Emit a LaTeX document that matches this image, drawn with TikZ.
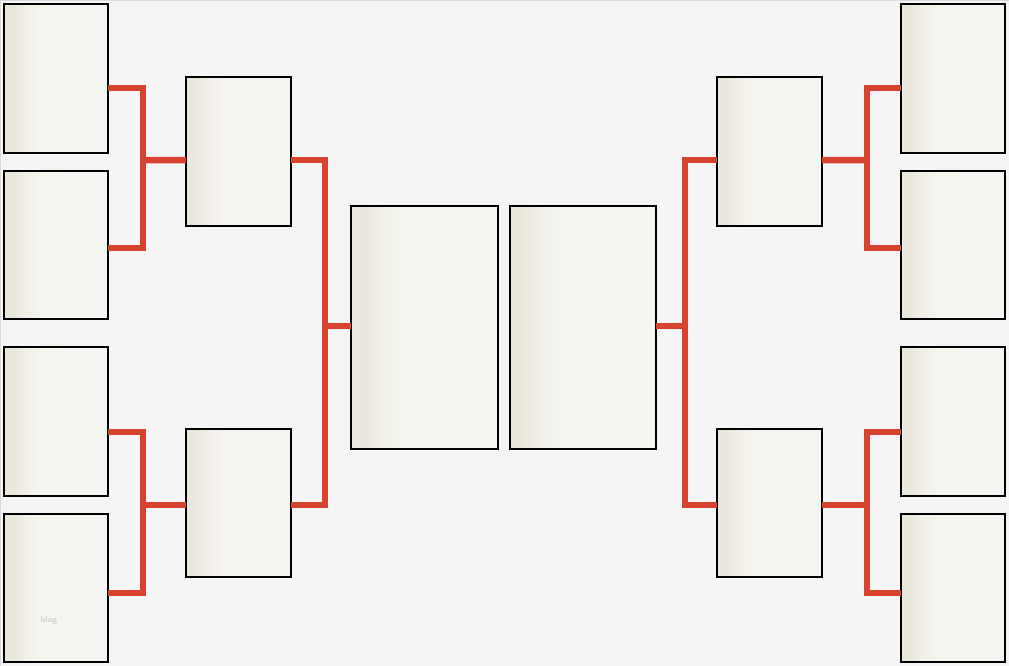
\documentclass[tikz,border=0pt]{standalone}
\usepackage{tikz}
\usetikzlibrary{calc}
\definecolor{bgcol}{RGB}{245,245,245}
\definecolor{beige}{RGB}{233,230,220}
\definecolor{paper}{RGB}{246,245,240}
\definecolor{linkred}{RGB}{216,66,48}
\pgfdeclarehorizontalshading{paperfade}{100bp}{color(0bp)=(beige); color(25bp)=(beige!85!paper); color(29bp)=(beige); color(35bp)=(paper!60!beige); color(44bp)=(paper); color(100bp)=(bgcol)}

\begin{document}
\begin{tikzpicture}[x=0.02cm,y=-0.02cm]
\tikzset{box/.style = {shape=rectangle,draw=black,line width=0.04cm,shading=paperfade,inner sep=0,outer sep=0}}
\tikzset{seed/.style = {box,minimum width=2.08cm,minimum height=2.98cm}}
\tikzset{semi/.style = {box,minimum width=2.1cm,minimum height=2.98cm}}
\tikzset{final/.style = {box,minimum width=2.93cm,minimum height=4.86cm}}
\tikzset{link/.style = {draw=linkred,line width=0.13cm}}
\useasboundingbox (0,0) rectangle (1009,666);
\fill[bgcol,draw=gray!30,line width=0.02cm] (0,0) rectangle (1009,666);

\node[seed] (a1) at (56,78.5) {};
\node[seed] (a2) at (56,245) {};
\node[seed] (a3) at (56,421.5) {};
\node[seed] (a4) at (56,588) {};
\node[semi] (b1) at (238.5,151.5) {};
\node[semi] (b2) at (238.5,503) {};
\node[final] (f1) at (424.5,327.5) {};
\node[final] (f2) at (583,327.5) {};
\node[semi] (c1) at (769.5,151.5) {};
\node[semi] (c2) at (769.5,503) {};
\node[seed] (d1) at (953,78.5) {};
\node[seed] (d2) at (953,245) {};
\node[seed] (d3) at (953,421.5) {};
\node[seed] (d4) at (953,588) {};
\node[text=gray!45,font=\sffamily\tiny] (wm) at (49,620) {blog};

\coordinate (ja1) at (143,160);
\coordinate (ja2) at (143,505);
\coordinate (jb) at (325,326);
\coordinate (jc) at (685,326);
\coordinate (jd1) at (867,160);
\coordinate (jd2) at (867,505);

\draw[link] ($(a1.east)+(0,9.5)$) -| (ja1) |- ($(a2.east)+(0,3)$);
\draw[link] (ja1) -- ($(b1.west)+(0,8.5)$);
\draw[link] ($(a3.east)+(0,10.5)$) -| (ja2) |- ($(a4.east)+(0,5)$);
\draw[link] (ja2) -- ($(b2.west)+(0,2)$);
\draw[link] ($(b1.east)+(0,8.5)$) -| (jb) |- ($(b2.east)+(0,2)$);
\draw[link] (jb) -- (jb -| f1.west);
\draw[link] ($(c1.west)+(0,8.5)$) -| (jc) |- ($(c2.west)+(0,2)$);
\draw[link] (jc) -- (jc -| f2.east);
\draw[link] ($(d1.west)+(0,9.5)$) -| (jd1) |- ($(d2.west)+(0,3)$);
\draw[link] (jd1) -- ($(c1.east)+(0,8.5)$);
\draw[link] ($(d3.west)+(0,10.5)$) -| (jd2) |- ($(d4.west)+(0,5)$);
\draw[link] (jd2) -- ($(c2.east)+(0,2)$);
\end{tikzpicture}
\end{document}
